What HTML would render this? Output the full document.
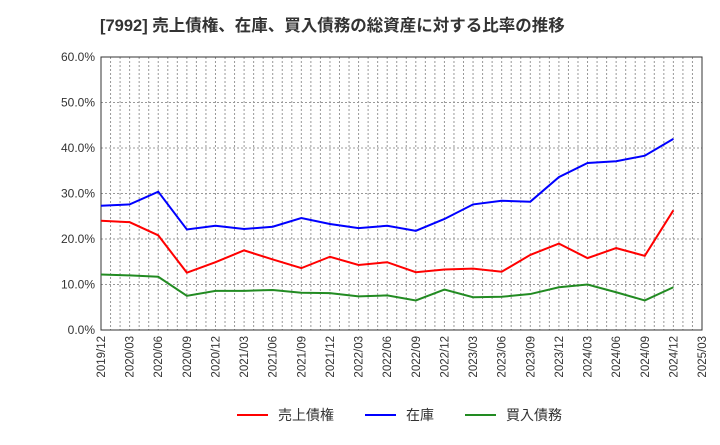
<!DOCTYPE html>
<html><head><meta charset="utf-8"><style>
body{margin:0;background:#fff;font-family:"Liberation Sans","Noto Sans CJK JP",sans-serif}
</style></head><body>
<svg id="c" width="720" height="440" xmlns="http://www.w3.org/2000/svg">
<text x="100" y="31" font-size="16.5" font-weight="bold" fill="#333" font-family="Liberation Sans, Noto Sans CJK JP, sans-serif">[7992]  売上債権、在庫、買入債務の総資産に対する比率の推移</text>
<g id="grid"></g><g id="axes"></g><g id="series"></g>
<g font-size="14" fill="#333">
<line x1="237" y1="415" x2="268" y2="415" stroke="#ff0000" stroke-width="2"/><text x="278" y="420">売上債権</text>
<line x1="365" y1="415" x2="396" y2="415" stroke="#0000ff" stroke-width="2"/><text x="406" y="420">在庫</text>
<line x1="465" y1="415" x2="496" y2="415" stroke="#228b22" stroke-width="2"/><text x="506" y="420">買入債務</text>
</g>
</svg>
<script>
const categories=["2019/12","2020/03","2020/06","2020/09","2020/12","2021/03","2021/06","2021/09","2021/12","2022/03","2022/06","2022/09","2022/12","2023/03","2023/06","2023/09","2023/12","2024/03","2024/06","2024/09","2024/12"];
const xTickLabels=["2019/12","2020/03","2020/06","2020/09","2020/12","2021/03","2021/06","2021/09","2021/12","2022/03","2022/06","2022/09","2022/12","2023/03","2023/06","2023/09","2023/12","2024/03","2024/06","2024/09","2024/12","2025/03"];
const yTicks=[0,10,20,30,40,50,60];
const receivables=[24.0,23.7,20.8,12.6,14.9,17.5,15.5,13.6,16.1,14.3,14.9,12.7,13.3,13.5,12.8,16.5,19.0,15.8,18.0,16.3,26.3];
const inventory=[27.3,27.6,30.4,22.1,22.9,22.2,22.7,24.6,23.3,22.4,22.9,21.8,24.4,27.6,28.4,28.2,33.6,36.7,37.1,38.3,42.0];
const payables=[12.2,12.0,11.7,7.5,8.6,8.6,8.8,8.2,8.1,7.4,7.6,6.5,8.9,7.2,7.3,7.9,9.4,10.0,8.3,6.5,9.4];
const L=101,R=702,T=57,B=330,NS="http://www.w3.org/2000/svg";
const nQ=xTickLabels.length-1;
const xs=i=>L+(R-L)*i/nQ;
const ys=v=>B-(B-T)*v/60;
function mk(t,a,p){const e=document.createElementNS(NS,t);for(const k in a)e.setAttribute(k,a[k]);p.appendChild(e);return e;}
const grid=document.getElementById('grid'),axes=document.getElementById('axes'),ser=document.getElementById('series');
for(let m=1;m<nQ*3;m++){const x=L+(R-L)*m/(nQ*3);
const g=mk('line',{x1:x,x2:x,y1:T,y2:B,stroke:'#999','stroke-dasharray':'2,2','stroke-width':1},grid);

}
yTicks.forEach(v=>{const y=ys(v);
const g=mk('line',{x1:L,x2:R,y1:y,y2:y,stroke:'#999','stroke-dasharray':'2,2'},grid);


const t=mk('text',{x:L-6,y:y+4,'text-anchor':'end','font-size':12,fill:'#333'},axes);t.textContent=v.toFixed(1)+'%';

});
xTickLabels.forEach((s,i)=>{const x=xs(i);
const t=mk('text',{transform:`translate(${x+4},${B+6}) rotate(-90)`,'text-anchor':'end','font-size':11.5,fill:'#333'},axes);t.textContent=s;

});
const fr=mk('rect',{x:L,y:T,width:R-L,height:B-T,fill:'none',stroke:'#333'},axes);


[[receivables,'#ff0000','receivables-line'],[inventory,'#0000ff','inventory-line'],[payables,'#228b22','payables-line']].forEach(([d,c,n])=>{
const p=mk('polyline',{points:d.map((v,i)=>xs(i)+','+ys(v)).join(' '),fill:'none',stroke:c,'stroke-width':2},ser);

});
</script>
</body></html>
